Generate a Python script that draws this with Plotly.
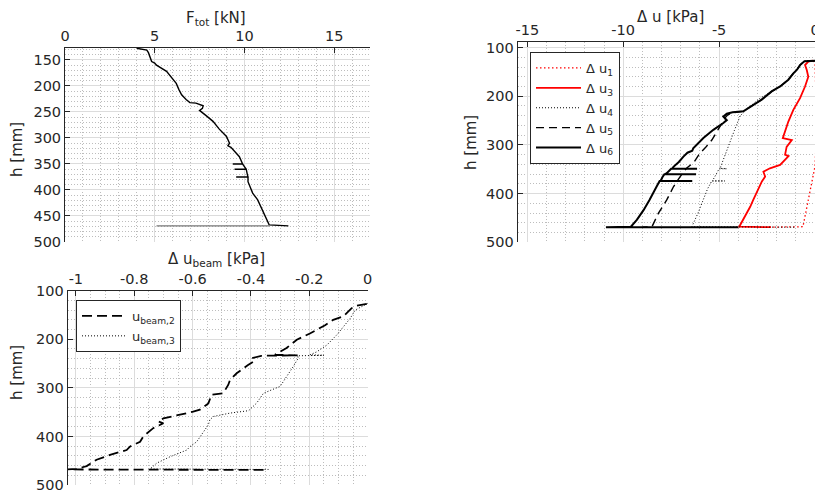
import plotly.graph_objects as go

# ---------------- data ----------------
# Top-left: total force vs height
h_F = [127.5, 131, 136, 143, 153, 156, 160, 172, 185, 195, 207, 217, 226, 232, 233, 236, 238, 243, 247, 258, 268, 283, 297, 310, 315, 318, 336, 350, 350, 350, 355, 360, 360, 360, 368, 375, 375, 375, 384, 406, 419, 438, 451, 467, 469]
F_tot = [4.0, 4.56, 4.65, 4.74, 4.83, 5.0, 5.1, 5.66, 5.95, 6.2, 6.35, 6.5, 6.75, 6.96, 7.3, 7.55, 7.7, 7.66, 7.5, 7.9, 8.25, 8.6, 9.0, 9.17, 9.08, 9.25, 9.72, 9.9, 9.35, 9.9, 10.0, 10.1, 9.45, 10.1, 10.15, 10.2, 9.54, 10.2, 10.2, 10.46, 10.74, 11.0, 11.2, 11.38, 12.45]
h_F_end = [469, 469]
F_tot_end = [11.4, 5.1]

# Top-right: pore pressure changes
h_u1 = [127, 135, 200, 250, 300, 344, 413, 468, 469]
du1 = [-0.1, 0.0, 0.05, 0.1, 0.05, 0.0, -0.35, -0.63, -2.5]

h_u3 = [127, 129, 136, 146, 160, 180, 204, 228, 252, 273, 286, 290, 304, 320, 323, 341, 348, 355, 365, 375, 399, 413, 427, 454, 468, 469]
du3 = [-0.12, -0.35, -0.52, -0.43, -0.35, -0.52, -0.78, -1.13, -1.39, -1.56, -1.68, -1.21, -1.48, -1.56, -1.38, -1.82, -2.35, -2.69, -2.6, -2.77, -3.03, -3.22, -3.38, -3.73, -3.95, -2.3]

h_u4 = [127, 128, 136, 146, 153, 166, 180, 190, 205, 218, 236, 240, 270, 300, 330, 348, 349, 349, 360, 374, 374, 374, 390, 413, 440, 468, 469]
du4 = [0.0, -0.55, -0.78, -0.95, -1.13, -1.39, -1.82, -2.26, -2.9, -3.3, -3.75, -3.9, -4.2, -4.5, -4.8, -4.95, -4.6, -5.0, -5.15, -5.35, -4.7, -5.38, -5.6, -5.82, -6.1, -6.42, -1.0]

h_u5 = [127, 128, 136, 146, 153, 166, 180, 190, 207, 218, 231, 234, 238, 245, 250, 265, 290, 305, 317, 335, 348, 365, 386, 413, 440, 468, 469]
du5 = [0.0, -0.55, -0.78, -0.95, -1.13, -1.39, -1.82, -2.26, -2.78, -3.21, -3.74, -4.3, -4.55, -4.7, -4.75, -5.0, -5.38, -5.7, -6.0, -6.3, -6.7, -7.03, -7.38, -7.73, -8.16, -8.5, -9.0]

h_u6 = [127, 128, 136, 146, 153, 166, 180, 190, 207, 218, 231, 233, 236, 242, 249, 255, 269, 286, 307, 312, 316, 324, 335, 345, 349, 349, 349, 358, 360, 360, 360, 366, 374, 374, 374, 385, 399, 413, 434, 454, 468, 469, 469]
du6 = [0.0, -0.55, -0.78, -0.95, -1.13, -1.39, -1.82, -2.26, -2.78, -3.21, -3.74, -4.3, -4.6, -4.78, -4.6, -4.78, -5.3, -5.82, -6.35, -6.4, -6.65, -6.86, -7.1, -7.38, -7.45, -6.15, -7.5, -7.73, -7.8, -6.2, -7.85, -7.95, -8.05, -6.4, -8.1, -8.25, -8.42, -8.63, -8.94, -9.29, -9.6, -10.9, -4.0]

# Bottom-left: beam pore pressure changes
h_b2 = [127, 131, 136, 153, 160, 171, 188, 201, 218, 232, 233, 234, 239, 246, 253, 270, 284, 294, 311, 314, 332, 345, 349, 356, 363, 369, 373, 383, 400, 411, 421, 428, 438, 448, 461, 467, 468, 469]
du_b2 = [-0.003, -0.038, -0.055, -0.084, -0.118, -0.146, -0.198, -0.243, -0.278, -0.318, -0.24, -0.365, -0.398, -0.392, -0.41, -0.449, -0.472, -0.478, -0.495, -0.535, -0.546, -0.575, -0.598, -0.655, -0.70, -0.718, -0.70, -0.735, -0.769, -0.78, -0.815, -0.826, -0.883, -0.929, -0.963, -0.998, -1.028, -0.34]

h_b3 = [126, 140, 157, 174, 191, 212, 226, 232, 233, 234, 239, 256, 277, 297, 311, 331, 347, 352, 359, 366, 376, 400, 411, 421, 428, 442, 455, 467, 468]
du_b3 = [0.0, -0.043, -0.06, -0.084, -0.106, -0.14, -0.175, -0.198, -0.15, -0.24, -0.238, -0.255, -0.278, -0.3, -0.357, -0.38, -0.408, -0.472, -0.529, -0.541, -0.546, -0.575, -0.586, -0.609, -0.62, -0.678, -0.723, -0.746, -0.34]

# tick labels
tl_x1 = [0, 5, 10, 15]
tl_x1_txt = ["0", "5", "10", "15"]
tl_y1 = [150, 200, 250, 300, 350, 400, 450, 500]
tl_y1_txt = ["150", "200", "250", "300", "350", "400", "450", "500"]
tl_x2 = [-15, -10, -5, 0]
tl_x2_txt = ["-15", "-10", "-5", "0"]
tl_y2 = [100, 200, 300, 400, 500]
tl_y2_txt = ["100", "200", "300", "400", "500"]
tl_x3 = [-1, -0.8, -0.6, -0.4, -0.2, 0]
tl_x3_txt = ["-1", "-0.8", "-0.6", "-0.4", "-0.2", "0"]

# axis titles
title_x1 = "F<sub>tot</sub> [kN]"
title_x2 = "Δ u [kPa]"
title_x3 = "Δ u<sub>beam</sub> [kPa]"
title_y = "h [mm]"

# ---------------- figure ----------------
FONT = "DejaVu Sans"
AX = "#262626"
OFF = 8                 # default page body margin
W, H = 823 - OFF, 500 - OFF

def px(v):
    return (v - OFF) / W

def py(v):
    return 1 - (v - OFF) / H

fig = go.Figure()

# top-left
fig.add_trace(go.Scatter(x=F_tot, y=h_F, mode="lines", line=dict(color="black", width=1.4),
                         xaxis="x", yaxis="y", showlegend=False))
fig.add_trace(go.Scatter(x=F_tot_end, y=h_F_end, mode="lines", line=dict(color="#777777", width=1.3),
                         xaxis="x", yaxis="y", showlegend=False))

# top-right
fig.add_trace(go.Scatter(x=du1, y=h_u1, mode="lines", name="Δ u<sub>1</sub>",
                         line=dict(color="#ff0000", width=1.3, dash="1.5px,2.5px"), xaxis="x2", yaxis="y2", legend="legend"))
fig.add_trace(go.Scatter(x=du3, y=h_u3, mode="lines", name="Δ u<sub>3</sub>",
                         line=dict(color="#ff0000", width=1.8), xaxis="x2", yaxis="y2", legend="legend"))
fig.add_trace(go.Scatter(x=du4, y=h_u4, mode="lines", name="Δ u<sub>4</sub>",
                         line=dict(color="black", width=1, dash="1px,2px"), xaxis="x2", yaxis="y2", legend="legend"))
fig.add_trace(go.Scatter(x=du5, y=h_u5, mode="lines", name="Δ u<sub>5</sub>",
                         line=dict(color="black", width=1.4, dash="8px,5px"), xaxis="x2", yaxis="y2", legend="legend"))
fig.add_trace(go.Scatter(x=du6, y=h_u6, mode="lines", name="Δ u<sub>6</sub>",
                         line=dict(color="black", width=2), xaxis="x2", yaxis="y2", legend="legend"))

# bottom-left
fig.add_trace(go.Scatter(x=du_b2, y=h_b2, mode="lines", name="u<sub>beam,2</sub>",
                         line=dict(color="black", width=1.8, dash="10px,5px"), xaxis="x3", yaxis="y3", legend="legend2"))
fig.add_trace(go.Scatter(x=du_b3, y=h_b3, mode="lines", name="u<sub>beam,3</sub>",
                         line=dict(color="black", width=1, dash="1px,2px"), xaxis="x3", yaxis="y3", legend="legend2"))


def xax(x0, x1, y_anchor, rng, tv, tt, mdt, mt0):
    return dict(domain=[px(x0), px(x1)], anchor=y_anchor, side="top", range=rng, automargin=False,
                tickmode="array", tickvals=tv, ticktext=tt,
                showline=True, linecolor=AX, linewidth=1, mirror=False,
                ticks="inside", ticklen=5, tickcolor=AX,
                showgrid=True, gridcolor="#dcdcdc", gridwidth=1, zeroline=False,
                minor=dict(tickmode="linear", tick0=mt0, dtick=mdt, showgrid=True,
                           gridcolor="#bdbdbd", griddash="1px,2px", gridwidth=1, ticks=""),
                tickfont=dict(family=FONT, size=14.5, color=AX))


def yax(top, bottom, x_anchor, rng, tv, tt, mdt, mt0):
    return dict(domain=[py(bottom), py(top)], anchor=x_anchor, range=rng, automargin=False,
                tickmode="array", tickvals=tv, ticktext=tt,
                showline=True, linecolor=AX, linewidth=1, mirror=False,
                ticks="inside", ticklen=5, tickcolor=AX,
                showgrid=True, gridcolor="#dcdcdc", gridwidth=1, zeroline=False,
                minor=dict(tickmode="linear", tick0=mt0, dtick=mdt, showgrid=True,
                           gridcolor="#bdbdbd", griddash="1px,2px", gridwidth=1, ticks=""),
                tickfont=dict(family=FONT, size=14.5, color=AX))


def title_ann(text, xc, yc, angle=0, size=16):
    return dict(text=text, x=px(xc), y=py(yc), xref="paper", yref="paper",
                xanchor="center", yanchor="middle", showarrow=False, textangle=angle,
                font=dict(family=FONT, size=size, color=AX))


fig.update_layout(
    width=W, height=H, autosize=False,
    margin=dict(l=0, r=0, t=0, b=0),
    paper_bgcolor="white", plot_bgcolor="white",
    font=dict(family=FONT, color=AX),
    xaxis=xax(65, 370, "y", [0, 17], tl_x1, tl_x1_txt, 1, 0),
    yaxis=yax(48, 242, "x", [500, 127], tl_y1, tl_y1_txt, 10, 0),
    xaxis2=xax(517.7, 820, "y2", [-15.5, 0.26], tl_x2, tl_x2_txt, 1, 0),
    yaxis2=yax(41.7, 242.3, "x2", [500, 88], tl_y2, tl_y2_txt, 20, 0),
    xaxis3=xax(67.7, 367.7, "y3", [-1.028, 0], tl_x3, tl_x3_txt, 0.05, 0),
    yaxis3=yax(290.7, 485, "x3", [500, 100], tl_y2, tl_y2_txt, 20, 0),
    annotations=[
        title_ann(title_x1, 216, 19, 0, 15),
        title_ann(title_x2, 670, 17, 0, 15),
        title_ann(title_x3, 216, 259, 0, 15),
        title_ann(title_y, 17, 150, -90, 15),
        title_ann(title_y, 471, 143, -90, 15),
        title_ann(title_y, 17, 373, -90, 15),
    ],
    legend=dict(x=px(530), y=py(52), xanchor="left", yanchor="top", itemwidth=45,
                bgcolor="white", bordercolor=AX, borderwidth=1,
                font=dict(family=FONT, size=13, color=AX), tracegroupgap=0),
    legend2=dict(x=px(76), y=py(300), xanchor="left", yanchor="top", itemwidth=45,
                 bgcolor="white", bordercolor=AX, borderwidth=1,
                 font=dict(family=FONT, size=13, color=AX), tracegroupgap=0),
)

fig.write_html("out.html")
